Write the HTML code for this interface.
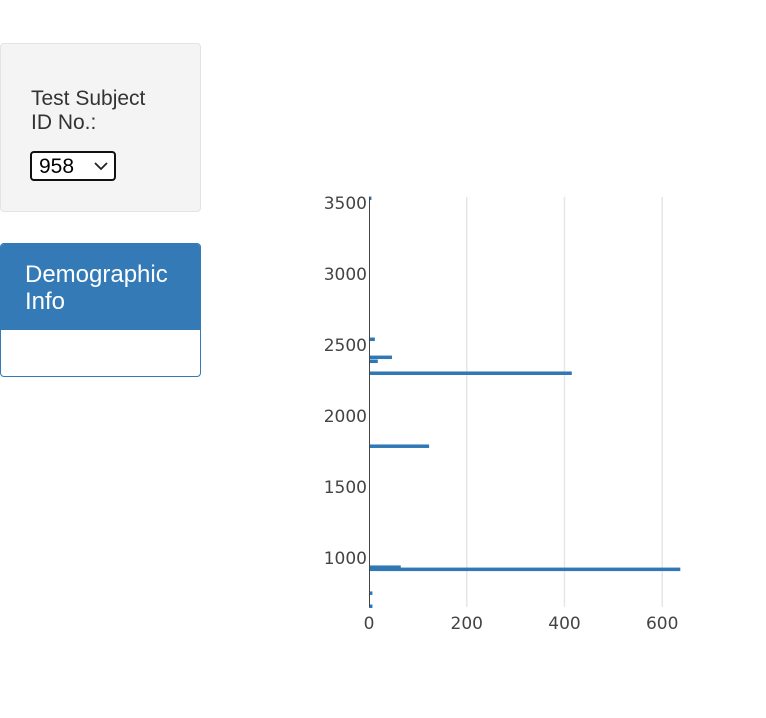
<!DOCTYPE html>
<html><head><meta charset="utf-8"><style>
body{margin:0;width:766px;height:718px;background:#fff;font-family:"Liberation Sans",Arial,sans-serif;position:relative;overflow:hidden}
.well{position:absolute;left:0;top:43px;width:199px;height:167px;background:#f4f4f4;border:1px solid #e3e3e3;border-radius:4px}
.lbl{position:absolute;left:31px;top:87px;font-size:21px;line-height:24px;color:#333}
.sel{position:absolute;left:30px;top:151px;width:82px;height:26px;border:2px solid #111;border-radius:4px;background:#fff;font-size:21px;line-height:27px;box-sizing:content-box}
.sel span{position:absolute;left:7px;top:0}
.panel{position:absolute;left:0;top:243px;width:199px;height:132px;border:1px solid #337ab7;border-radius:4px;overflow:hidden}
.ph{background:#337ab7;color:#fff;font-size:24px;line-height:27px;padding:17px 24px 17px;height:52px}
svg text{font-family:"DejaVu Sans",sans-serif;font-size:17px;fill:#444}
</style></head><body>
<div class="well"></div>
<div class="lbl">Test Subject<br>ID No.:</div>
<div class="sel"><span>958</span>
<svg width="14" height="10" style="position:absolute;left:62px;top:8px"><polyline points="1,2 7,8 13,2" fill="none" stroke="#222" stroke-width="1.8"/></svg></div>
<div class="panel"><div class="ph">Demographic<br>Info</div></div>
<svg id="chart" width="766" height="718" style="position:absolute;left:0;top:0"></svg>
<script>
const xTicks=[0,200,400,600];
const yTicks=[1000,1500,2000,2500,3000,3500];
const yCats=[3535,2542,2415,2387,2303,1789,937,922,754,662];
const xVals=[5,12,47,18,415,123,65,637,7,7];
const NS="http://www.w3.org/2000/svg";
const svg=document.getElementById('chart');
const X=v=>369+v*0.4887;
const Y=v=>558-(v-1000)*0.142;
function mk(t,a){const e=document.createElementNS(NS,t);for(const k in a)e.setAttribute(k,a[k]);svg.appendChild(e);return e;}
xTicks.forEach(t=>{
 if(t>0){const g=mk('line',{x1:X(t),x2:X(t),y1:197,y2:607,stroke:'#e6e6e6','stroke-width':1.5});
 
 }
 const tx=mk('text',{x:X(t),y:629,'text-anchor':'middle'});tx.textContent=t;
 
 
});
yTicks.forEach(t=>{
 const tx=mk('text',{x:367,y:Y(t)+6,'text-anchor':'end'});tx.textContent=t;
 
 
});
yCats.forEach((c,i)=>{
 const r=mk('rect',{x:369,y:Y(c)-1.5,width:Math.max(1,X(xVals[i])-369),height:3.5,fill:'#2f78b5'});
 
 
});
const ax=mk('line',{x1:369.5,x2:369.5,y1:197,y2:607,stroke:'#444','stroke-width':1});


</script>
</body></html>
